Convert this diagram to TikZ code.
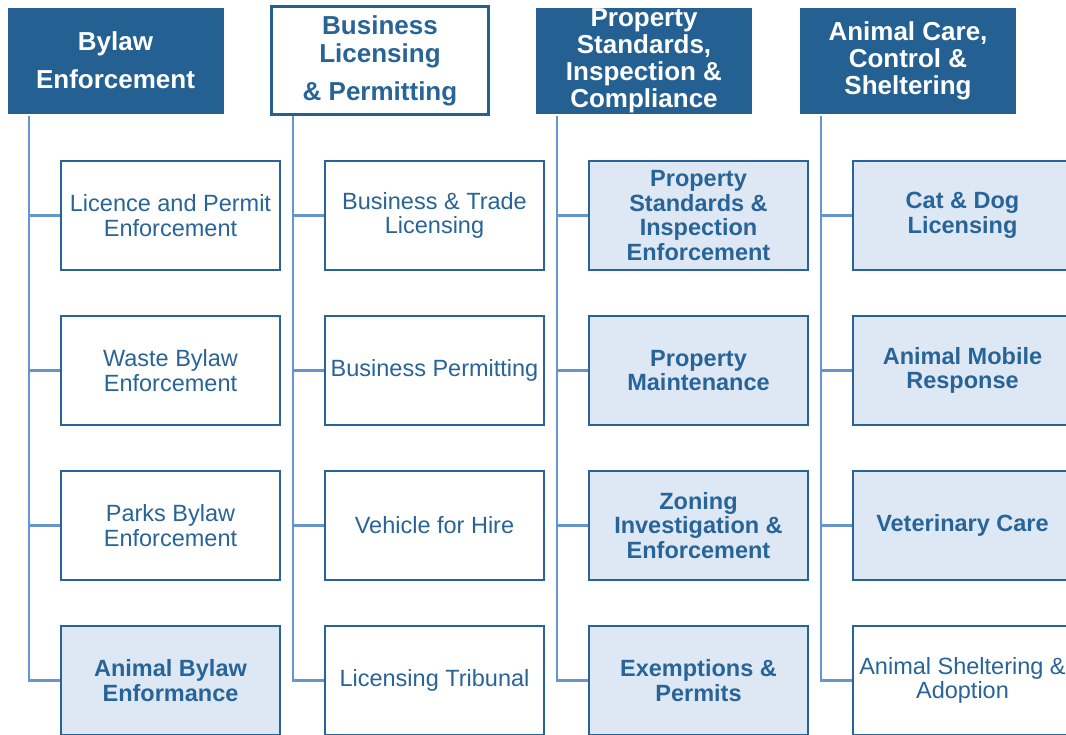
\documentclass[tikz,border=0pt]{standalone}
\usepackage{fontspec}
\setmainfont{Liberation Sans}
\usepackage{tikz}
\usetikzlibrary{positioning}
\definecolor{hdblue}{RGB}{36,97,146}
\definecolor{txtblue}{RGB}{40,100,152}
\definecolor{lineblue}{RGB}{100,150,205}
\definecolor{paleblue}{RGB}{221,232,244}
\tikzset{
  head/.style={fill=hdblue, draw=hdblue, text=white, minimum width=215pt, minimum height=105pt,
    font=\fontsize{26}{27}\selectfont\bfseries, align=center, inner sep=0pt},
  headw/.style={head, fill=white, text=txtblue, line width=3pt, minimum width=217pt, minimum height=108pt,
    font=\fontsize{26}{28}\selectfont\bfseries},
  unit/.style={draw=txtblue, line width=2.3pt, text=txtblue, minimum width=219pt, minimum height=109pt,
    font=\fontsize{23.5}{24.8}\selectfont, align=center, inner sep=1pt},
  unitb/.style={unit, fill=paleblue, font=\fontsize{23.5}{24.8}\selectfont\bfseries},
  branch/.style={draw=lineblue, line width=2.3pt}
}

\begin{document}
\begin{tikzpicture}[x=1pt, y=-1pt]
\clip (0,0) rectangle (1066,734);
\fill[white] (0,0) rectangle (1066,734);

% division headers
\node[head] (bylaw) at (115.5,60.5) {Bylaw\\[11pt]Enforcement};
\node[headw] (licensing) at (380,60.5) {Business\\Licensing\\[10pt]\& Permitting};
\node[head] (property) at (644,61) {Property\\Standards,\\Inspection \&\\Compliance};
\node[head] (animal) at (908,60.5) {Animal Care,\\Control \&\\Sheltering};

% trunk tops
\coordinate (tbe) at (29,116);
\coordinate (tbl) at (293,116);
\coordinate (tps) at (557,116);
\coordinate (tac) at (821,116);

% bylaw enforcement
\node[unit] (be1) at (170.5,215.5) {Licence and Permit\\Enforcement};
\node[unit] (be2) at (170.5,370.5) {Waste Bylaw\\Enforcement};
\node[unit] (be3) at (170.5,525.5) {Parks Bylaw\\Enforcement};
\node[unitb] (be4) at (170.5,680.5) {Animal Bylaw\\Enformance};

% business licensing
\node[unit] (bl1) at (434.5,215.5) {Business \& Trade\\Licensing};
\node[unit] (bl2) at (434.5,370.5) {Business Permitting};
\node[unit] (bl3) at (434.5,525.5) {Vehicle for Hire};
\node[unit] (bl4) at (434.5,680.5) {Licensing Tribunal};

% property standards
\node[unitb] (ps1) at (698.5,215.5) {Property\\Standards \&\\Inspection\\Enforcement};
\node[unitb] (ps2) at (698.5,370.5) {Property\\Maintenance};
\node[unitb] (ps3) at (698.5,525.5) {Zoning\\Investigation \&\\Enforcement};
\node[unitb] (ps4) at (698.5,680.5) {Exemptions \&\\Permits};

% animal care
\node[unitb] (ac1) at (962.5,215.5) {Cat \& Dog\\Licensing};
\node[unitb] (ac2) at (962.5,370.5) {Animal Mobile\\Response};
\node[unitb] (ac3) at (962.5,525.5) {Veterinary Care};
\node[unit] (ac4) at (962.5,680.5) {Animal Sheltering \&\\Adoption};

% connectors
\draw[branch] (tbe) |- (be1.west) (tbe) |- (be2.west) (tbe) |- (be3.west) (tbe) |- (be4.west);
\draw[branch] (tbl) |- (bl1.west) (tbl) |- (bl2.west) (tbl) |- (bl3.west) (tbl) |- (bl4.west);
\draw[branch] (tps) |- (ps1.west) (tps) |- (ps2.west) (tps) |- (ps3.west) (tps) |- (ps4.west);
\draw[branch] (tac) |- (ac1.west) (tac) |- (ac2.west) (tac) |- (ac3.west) (tac) |- (ac4.west);
\end{tikzpicture}
\end{document}
